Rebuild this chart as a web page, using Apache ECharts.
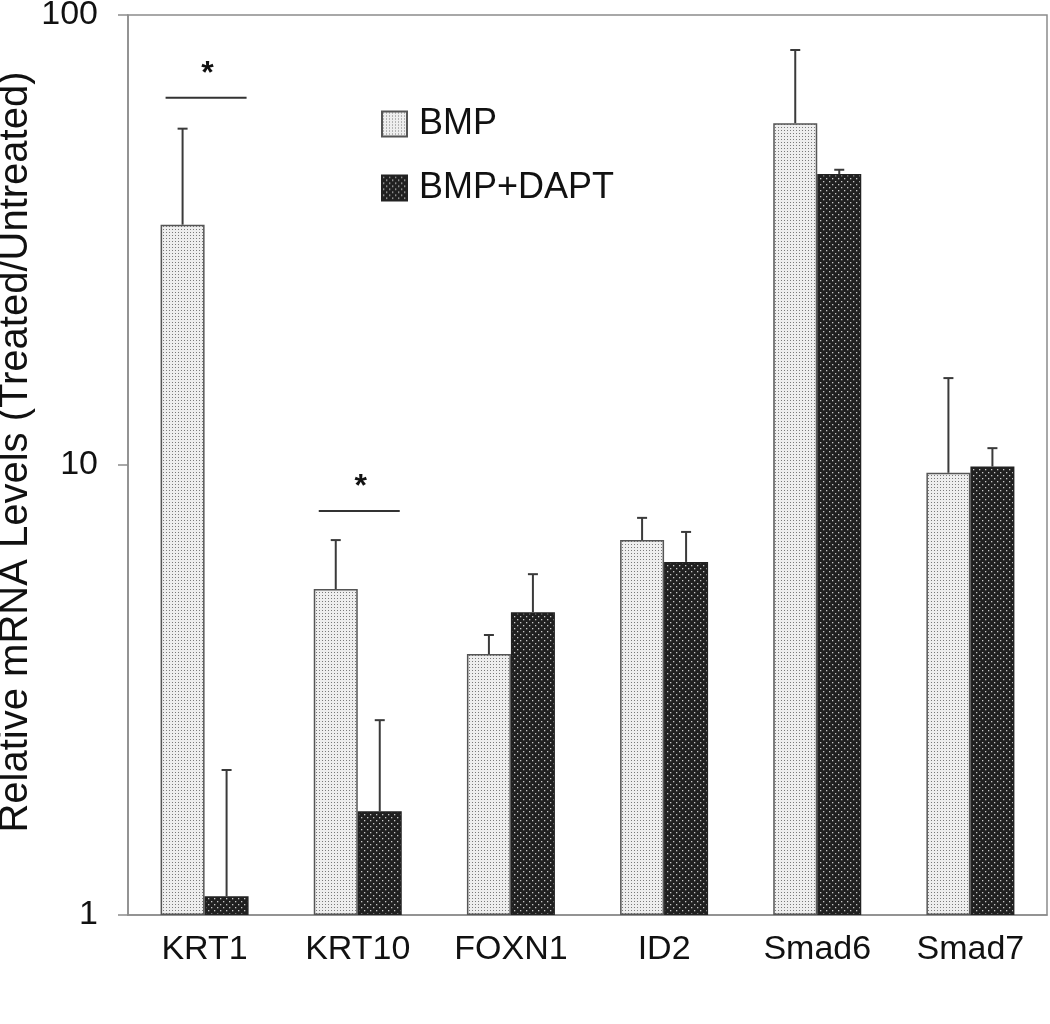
<!DOCTYPE html>
<html>
<head>
<meta charset="utf-8">
<script src="https://cdn.jsdelivr.net/npm/echarts@6/dist/echarts.min.js"></script>
<style>html,body{margin:0;padding:0;background:#fff;}#c{width:1050px;height:1024px;}</style>
</head>
<body>
<div id="c"></div>
<script>
var categories = ['KRT1', 'KRT10', 'FOXN1', 'ID2', 'Smad6', 'Smad7'];
var seriesNames = ['BMP', 'BMP+DAPT'];
var bmpValues = [34.2, 5.30, 3.80, 6.81, 57.5, 9.61];
var bmpErrTop = [55.9, 6.81, 4.19, 7.63, 83.6, 15.6];
var daptValues = [1.10, 1.70, 4.71, 6.09, 44.3, 9.92];
var daptErrTop = [2.10, 2.71, 5.72, 7.10, 45.3, 10.9];
var sigCategories = ['KRT1', 'KRT10'];
var sigLevels = [65.5, 7.9];
var sigLabel = '*';
var yTicks = [1, 10, 100];
var yTitle = 'Relative mRNA Levels (Treated/Untreated)';

var FONT = 'Liberation Sans, Arial, sans-serif';
var BAR_W = 44;

function makePattern(size, bg, dots, dotColor, dotSize) {
  var cv = document.createElement('canvas');
  cv.width = size; cv.height = size;
  var ctx = cv.getContext('2d');
  ctx.fillStyle = bg; ctx.fillRect(0, 0, size, size);
  ctx.fillStyle = dotColor;
  dots.forEach(function (d) { ctx.fillRect(d[0], d[1], dotSize, dotSize); });
  return cv;
}
var lightPat = makePattern(3, '#eeeeee', [[1, 1]], '#7a7a7a', 1);
var darkPat = makePattern(6, '#202020', [[1, 1], [4, 4]], '#c8c8c8', 1.3);

var chart = echarts.init(document.getElementById('c'));

function errItem(offsetSign) {
  return function (params, api) {
    var i = api.value(0);
    var base = api.coord([i, api.value(1)]);
    var top = api.coord([i, api.value(2)]);
    var x = base[0] + offsetSign * BAR_W / 2;
    return {
      type: 'group',
      children: [
        { type: 'line', shape: { x1: x, y1: base[1], x2: x, y2: top[1] }, style: { stroke: '#3a3a3a', lineWidth: 2 } },
        { type: 'line', shape: { x1: x - 5, y1: top[1], x2: x + 5, y2: top[1] }, style: { stroke: '#3a3a3a', lineWidth: 2 } }
      ]
    };
  };
}

var option = {
  backgroundColor: '#fff',
  animation: false,
  textStyle: { fontFamily: FONT },
  grid: { left: 128, right: 3, top: 15, bottom: 109, show: true, borderColor: '#8c8c8c', borderWidth: 1.5, backgroundColor: 'transparent', containLabel: false, outerBoundsMode: 'none' },
  graphic: [
    {
      type: 'text', x: 16, y: 452, rotation: Math.PI / 2,
      style: { text: yTitle, align: 'center', verticalAlign: 'middle', fontSize: 40, fill: '#111', fontFamily: FONT }
    }
  ],
  legend: {
    data: seriesNames.map(function (n) { return { name: n, icon: 'rect' }; }),
    orient: 'vertical',
    left: 381, top: 106, padding: 0,
    itemWidth: 25, itemHeight: 25,
    itemGap: 28,
    textStyle: { fontSize: 36, color: '#111', fontFamily: FONT, lineHeight: 36, padding: [0, 0, 0, 7] }
  },
  xAxis: {
    type: 'category',
    data: categories,
    boundaryGap: true,
    axisLine: { lineStyle: { color: '#8c8c8c', width: 1.5 } },
    axisTick: { alignWithLabel: true, length: 4, lineStyle: { color: '#aaa' } },
    axisLabel: { fontSize: 34, color: '#111', margin: 18, fontFamily: FONT }
  },
  yAxis: {
    type: 'log',
    logBase: 10,
    min: yTicks[0], max: yTicks[yTicks.length - 1],
    axisLine: { show: true, lineStyle: { color: '#8c8c8c', width: 1.5 } },
    axisTick: { show: true, length: 10, lineStyle: { color: '#8c8c8c', width: 1.5 } },
    minorTick: { show: false },
    splitLine: { show: false },
    axisLabel: { fontSize: 34, color: '#111', margin: 30, fontFamily: FONT }
  },
  series: [
    {
      name: seriesNames[0], type: 'bar', barWidth: BAR_W, barGap: '0%',
      data: bmpValues,
      itemStyle: { color: { image: lightPat, repeat: 'repeat' }, borderColor: '#555', borderWidth: 1.5 }
    },
    {
      name: seriesNames[1], type: 'bar', barWidth: BAR_W, barGap: '0%',
      data: daptValues,
      itemStyle: { color: { image: darkPat, repeat: 'repeat' }, borderColor: '#222', borderWidth: 1.5 }
    },
    {
      type: 'custom', name: 'errBMP', silent: true, z: 3,
      data: bmpValues.map(function (v, i) { return [i, v, bmpErrTop[i]]; }),
      renderItem: errItem(-1)
    },
    {
      type: 'custom', name: 'errDAPT', silent: true, z: 3,
      data: daptValues.map(function (v, i) { return [i, v, daptErrTop[i]]; }),
      renderItem: errItem(1)
    },
    {
      type: 'custom', name: 'sig', silent: true, z: 4,
      data: sigCategories.map(function (c, i) { return [categories.indexOf(c), sigLevels[i]]; }),
      renderItem: function (params, api) {
        var p = api.coord([api.value(0), api.value(1)]);
        return {
          type: 'group',
          children: [
            { type: 'line', shape: { x1: p[0] - 39, y1: p[1], x2: p[0] + 42, y2: p[1] }, style: { stroke: '#333', lineWidth: 2 } },
            { type: 'text', style: { text: sigLabel, x: p[0] + 3, y: p[1] - 24, align: 'center', verticalAlign: 'middle', fontSize: 32, fontWeight: 'bold', fontFamily: FONT, fill: '#111' } }
          ]
        };
      }
    }
  ]
};
chart.setOption(option);
</script>
</body>
</html>
